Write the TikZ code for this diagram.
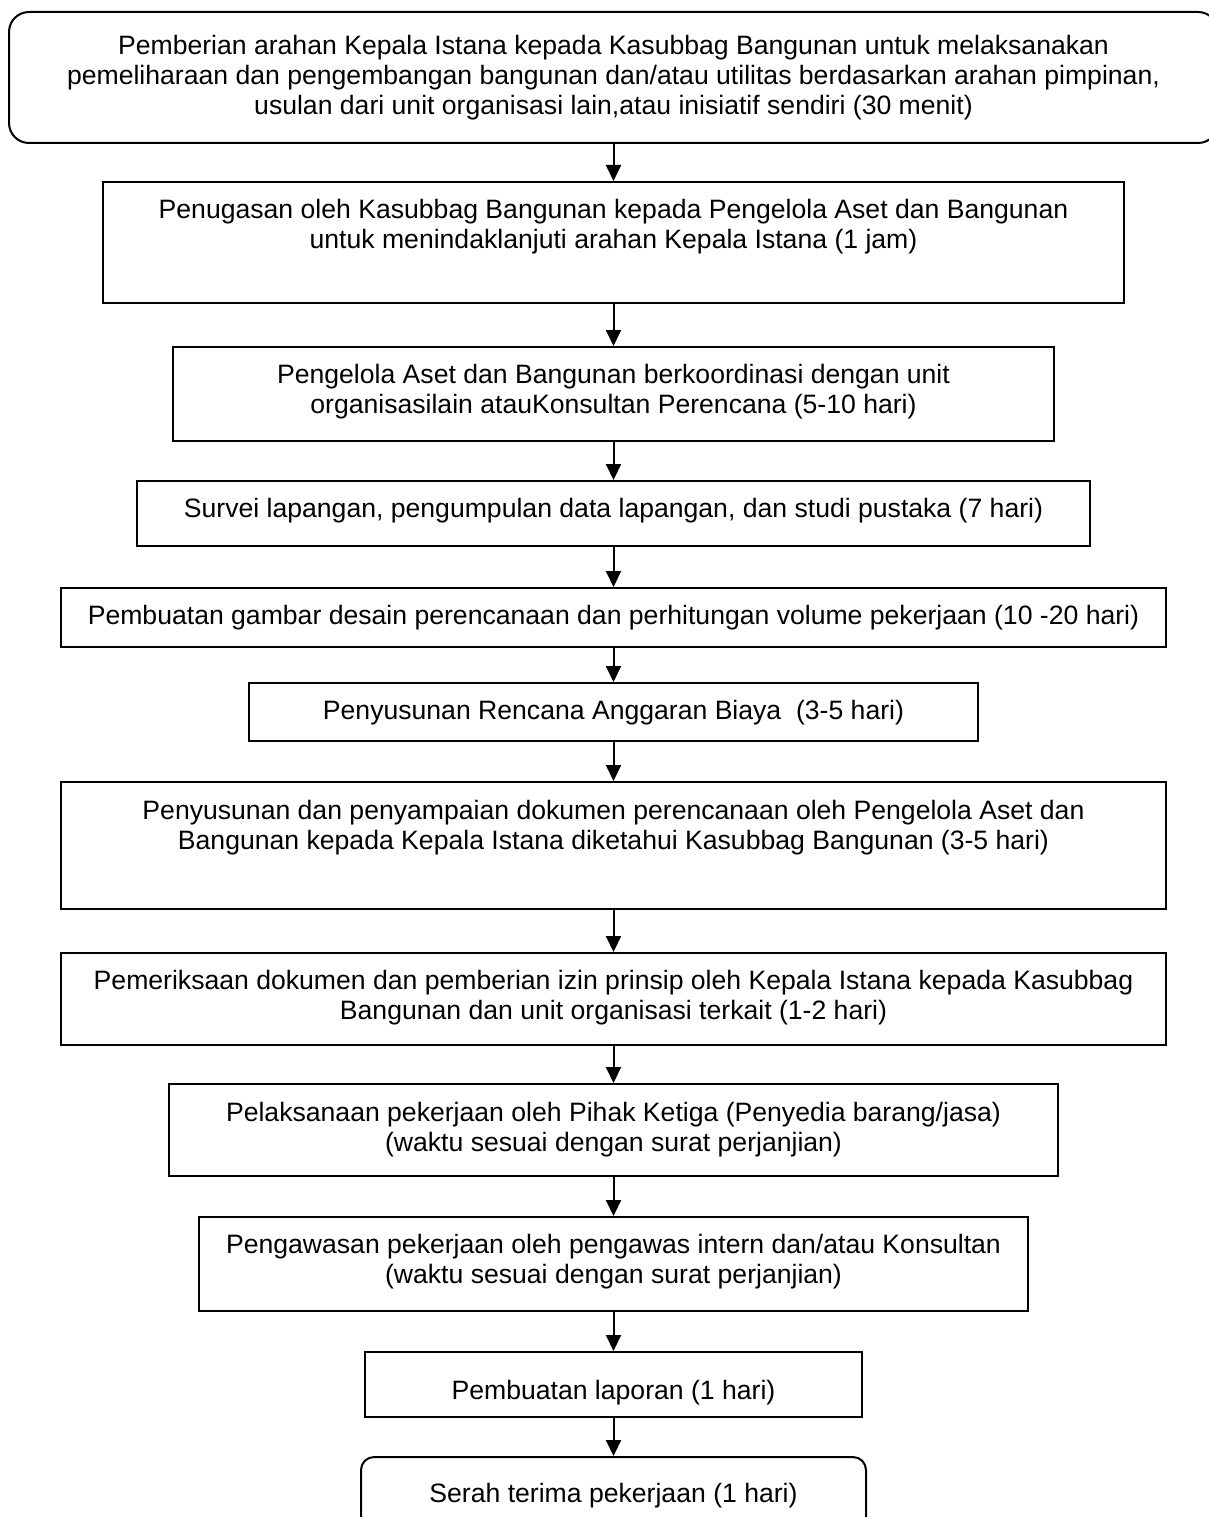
\documentclass[tikz,border=0pt]{standalone}
\usepackage{fontspec}
\setmainfont{Liberation Sans}
\usetikzlibrary{arrows.meta}
\begin{document}
\begin{tikzpicture}[x=1pt,y=-1pt,
  box/.style={draw=black, line width=2pt, inner sep=0pt, fill=white},
  rbox/.style={box, rounded corners=20pt},
  rboxs/.style={box, rounded corners=13pt},
  txt/.style={align=center, inner sep=0pt, font=\fontsize{26.6}{30}\selectfont},
  flow/.style={line width=2pt, -{Triangle[length=16pt,width=15pt]}}]
\useasboundingbox (0,0) rectangle (1208,1517);
% boxes
\node[rbox, minimum width=1209pt, minimum height=131pt] (b1) at (613.5,77.5) {};
\node[box, minimum width=1021pt, minimum height=121pt] (b2) at (613.5,242.5) {};
\node[box, minimum width=881pt, minimum height=94pt] (b3) at (613.5,394) {};
\node[box, minimum width=953pt, minimum height=65pt] (b4) at (613.5,513.5) {};
\node[box, minimum width=1105pt, minimum height=59pt] (b5) at (613.5,617.5) {};
\node[box, minimum width=729pt, minimum height=58pt] (b6) at (613.5,712) {};
\node[box, minimum width=1105pt, minimum height=127pt] (b7) at (613.5,845.5) {};
\node[box, minimum width=1105pt, minimum height=92pt] (b8) at (613.5,999) {};
\node[box, minimum width=889pt, minimum height=92pt] (b9) at (613.5,1130) {};
\node[box, minimum width=829pt, minimum height=94pt] (b10) at (613.5,1264) {};
\node[box, minimum width=497pt, minimum height=65pt] (b11) at (613.5,1384.5) {};
\node[rboxs, minimum width=505pt, minimum height=73pt] (b12) at (613.5,1493.5) {};
% texts
\node[txt] (t1) at (613.5,78) {Pemberian arahan Kepala Istana kepada Kasubbag Bangunan untuk melaksanakan\\pemeliharaan dan pengembangan bangunan dan/atau utilitas berdasarkan arahan pimpinan,\\usulan dari unit organisasi lain,atau inisiatif sendiri (30 menit)};
\node[txt] (t2) at (613.5,227) {Penugasan oleh Kasubbag Bangunan kepada Pengelola Aset dan Bangunan\\untuk menindaklanjuti arahan Kepala Istana (1 jam)};
\node[txt] (t3) at (613.5,391.5) {Pengelola Aset dan Bangunan berkoordinasi dengan unit\\organisasilain atauKonsultan Perencana (5-10 hari)};
\node[txt] (t4) at (613.5,511) {Survei lapangan, pengumpulan data lapangan, dan studi pustaka (7 hari)};
\node[txt] (t5) at (613.5,618) {Pembuatan gambar desain perencanaan dan perhitungan volume pekerjaan (10 -20 hari)};
\node[txt] (t6) at (613.5,713) {Penyusunan Rencana Anggaran Biaya \ (3-5 hari)};
\node[txt] (t7) at (613.5,828) {Penyusunan dan penyampaian dokumen perencanaan oleh Pengelola Aset dan\\Bangunan kepada Kepala Istana diketahui Kasubbag Bangunan (3-5 hari)};
\node[txt] (t8) at (613.5,998) {Pemeriksaan dokumen dan pemberian izin prinsip oleh Kepala Istana kepada Kasubbag\\Bangunan dan unit organisasi terkait (1-2 hari)};
\node[txt] (t9) at (613.5,1129.5) {Pelaksanaan pekerjaan oleh Pihak Ketiga (Penyedia barang/jasa)\\(waktu sesuai dengan surat perjanjian)};
\node[txt] (t10) at (613.5,1261.5) {Pengawasan pekerjaan oleh pengawas intern dan/atau Konsultan\\(waktu sesuai dengan surat perjanjian)};
\node[txt] (t11) at (613.5,1393) {Pembuatan laporan (1 hari)};
\node[txt] (t12) at (613.5,1496) {Serah terima pekerjaan (1 hari)};
% connectors
\draw[flow] (b1) -- (b2);
\draw[flow] (b2) -- (b3);
\draw[flow] (b3) -- (b4);
\draw[flow] (b4) -- (b5);
\draw[flow] (b5) -- (b6);
\draw[flow] (b6) -- (b7);
\draw[flow] (b7) -- (b8);
\draw[flow] (b8) -- (b9);
\draw[flow] (b9) -- (b10);
\draw[flow] (b10) -- (b11);
\draw[flow] (b11) -- (b12);
\end{tikzpicture}
\end{document}
